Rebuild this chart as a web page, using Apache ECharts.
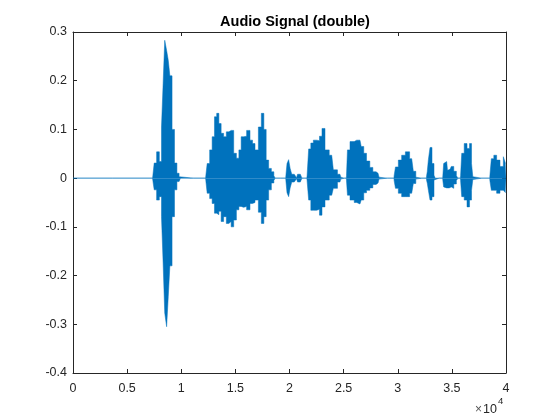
<!DOCTYPE html>
<html>
<head>
<meta charset="utf-8">
<script src="https://cdn.jsdelivr.net/npm/echarts@6/dist/echarts.min.js"></script>
<style>html,body{margin:0;padding:0;background:#fff}#c{width:560px;height:420px}</style>
</head>
<body>
<div id="c"></div>
<script>
// Envelope of the audio signal (sample index, max, min)
const sampleIndex = [
  0, 7350,
  7400, 7600, 7850, 8100, 8250, 8400, 8550, 8750, 8850, 9050, 9250, 9500, 9700, 9900,
  9950, 12250,
  12290, 12500, 12750, 12960, 13180, 13370, 13580, 13790, 14040, 14290, 14500, 14720, 14970, 15220, 15430, 15640, 15890, 16190, 16510, 16660, 16970, 17280, 17520, 17740, 17950, 18200, 18450, 18660,
  18700, 19650,
  19680, 19860, 19980, 20140, 20280, 20600, 20700, 20790, 21000, 21130,
  21170, 21600,
  21650, 21890, 22050, 22360, 22660, 22880, 23120, 23440, 23900, 24200, 24660, 24820,
  24850, 25250,
  25280, 25430, 25750, 26210, 26510, 26740, 26980, 27250, 27590, 27810, 28180, 28360,
  28400, 29650,
  29680, 29900, 30210, 30510, 30900, 31290, 31590, 31750,
  31800, 32650,
  32680, 32770, 32890, 33070, 33260, 33440,
  33480, 34150,
  34180, 34300, 34520, 34670, 34830, 35060, 35290, 35540,
  35590, 35790,
  35820, 36000, 36280, 36520, 36740, 36890, 36980,
  37020, 38500,
  38520, 38770, 38980, 39290, 39600, 39910, 40000
];
const upperEnvelope = [
  0, 0,
  0.005, 0.031, 0.054, 0.034, 0.105, 0.194, 0.283, 0.262, 0.242, 0.21, 0.1, 0.031, 0.01, 0.003,
  0, 0,
  0.005, 0.03, 0.058, 0.085, 0.126, 0.133, 0.112, 0.092, 0.085, 0.095, 0.098, 0.098, 0.051, 0.041, 0.058, 0.085, 0.086, 0.098, 0.078, 0.071, 0.058, 0.105, 0.133, 0.1, 0.037, 0.02, 0.013, 0.005,
  0, 0,
  0.005, 0.03, 0.038, 0.02, 0.008, 0.006, 0.001, 0.008, 0.008, 0.004,
  0, 0,
  0.005, 0.06, 0.072, 0.078, 0.077, 0.086, 0.102, 0.058, 0.047, 0.017, 0.008, 0.002,
  0, 0,
  0.005, 0.058, 0.075, 0.078, 0.078, 0.065, 0.051, 0.035, 0.022, 0.013, 0.01, 0.002,
  0, 0,
  0.005, 0.023, 0.037, 0.047, 0.054, 0.04, 0.014, 0.002,
  0, 0,
  0.005, 0.013, 0.038, 0.063, 0.03, 0.006,
  0, 0,
  0.005, 0.03, 0.034, 0.016, 0.018, 0.024, 0.014, 0.005,
  0, 0,
  0.005, 0.051, 0.071, 0.061, 0.071, 0.03, 0.003,
  0, 0,
  0.005, 0.04, 0.047, 0.037, 0.024, 0.044, 0.03
];
const lowerEnvelope = [
  0, 0,
  -0.005, -0.024, -0.045, -0.038, -0.079, -0.174, -0.277, -0.305, -0.243, -0.18, -0.079, -0.024, -0.007, -0.003,
  0, 0,
  -0.005, -0.031, -0.042, -0.052, -0.072, -0.075, -0.068, -0.089, -0.079, -0.093, -0.089, -0.1, -0.086, -0.065, -0.058, -0.06, -0.058, -0.065, -0.052, -0.05, -0.045, -0.07, -0.093, -0.079, -0.045, -0.024, -0.01, -0.005,
  0, 0,
  -0.005, -0.03, -0.038, -0.02, -0.008, -0.006, -0.001, -0.008, -0.008, -0.004,
  0, 0,
  -0.005, -0.045, -0.066, -0.066, -0.064, -0.076, -0.059, -0.045, -0.035, -0.021, -0.008, -0.002,
  0, 0,
  -0.005, -0.035, -0.045, -0.05, -0.053, -0.045, -0.03, -0.025, -0.02, -0.013, -0.01, -0.002,
  0, 0,
  -0.005, -0.021, -0.031, -0.038, -0.038, -0.031, -0.011, -0.002,
  0, 0,
  -0.005, -0.01, -0.025, -0.045, -0.038, -0.004,
  0, 0,
  -0.005, -0.018, -0.02, -0.02, -0.018, -0.021, -0.012, -0.005,
  0, 0,
  -0.005, -0.038, -0.045, -0.059, -0.045, -0.025, -0.003,
  0, 0,
  -0.005, -0.025, -0.025, -0.031, -0.025, -0.028, -0.03
];
const xTicks = [0, 5000, 10000, 15000, 20000, 25000, 30000, 35000, 40000];
const yTicks = [-0.4, -0.3, -0.2, -0.1, 0, 0.1, 0.2, 0.3];
const titleText = 'Audio Signal (double)';

const blue = '#0072BD';
const axisCol = '#262626';
const font = '"Liberation Sans", Arial, Helvetica, sans-serif';

const upperData = sampleIndex.map((s, i) => [s, upperEnvelope[i]]);
const lowerData = sampleIndex.map((s, i) => [s, lowerEnvelope[i]]);

const chart = echarts.init(document.getElementById('c'), null, {renderer: 'canvas'});
const xCommon = {
  type: 'value', min: xTicks[0], max: xTicks[xTicks.length - 1], interval: 5000,
  axisLine: {show: true, onZero: false, lineStyle: {color: axisCol, width: 1}},
  axisTick: {show: true, inside: true, length: 4, lineStyle: {color: axisCol}},
  splitLine: {show: false}
};
const yCommon = {
  type: 'value', min: yTicks[0], max: yTicks[yTicks.length - 1], interval: 0.1,
  axisLine: {show: true, onZero: false, lineStyle: {color: axisCol, width: 1}},
  axisTick: {show: true, inside: true, length: 4, lineStyle: {color: axisCol}},
  splitLine: {show: false}
};
chart.setOption({
  animation: false,
  backgroundColor: '#ffffff',
  title: {
    text: titleText, left: 290, top: 9, textAlign: 'center',
    textStyle: {fontFamily: font, fontSize: 14.5, fontWeight: 'bold', color: '#000'}
  },
  grid: {left: 73, right: 54, top: 32, bottom: 47, containLabel: false},
  xAxis: [
    Object.assign({}, xCommon, {
      position: 'bottom',
      axisLabel: {show: true, margin: 9, color: axisCol, fontFamily: font, fontSize: 12.5,
        formatter: v => String(Math.round(v / 1000) / 10)}
    }),
    Object.assign({}, xCommon, {position: 'top', axisLabel: {show: false}})
  ],
  yAxis: [
    Object.assign({}, yCommon, {
      position: 'left',
      axisLabel: {show: true, margin: 6, color: axisCol, fontFamily: font, fontSize: 12.5,
        formatter: v => String(Math.round(v * 10) / 10)}
    }),
    Object.assign({}, yCommon, {position: 'right', axisLabel: {show: false}})
  ],
  graphic: [{
    type: 'text', left: 475, top: 396,
    style: {
      text: '{a|×}{b|10}{c|4}',
      rich: {
        a: {fontFamily: font, fontSize: 12, fill: '#555', padding: [7, 1, 0, 0]},
        b: {fontFamily: font, fontSize: 12.5, fill: axisCol, padding: [7, 0, 0, 0]},
        c: {fontFamily: font, fontSize: 9.5, fill: axisCol, verticalAlign: 'top', padding: [0, 0, 5, 1]}
      }
    }
  }],
  series: [
    {
      type: 'line', data: upperData, showSymbol: false, symbol: 'none', step: 'middle',
      lineStyle: {color: blue, width: 0.5}, areaStyle: {color: blue, opacity: 1},
      clip: true, silent: true
    },
    {
      type: 'line', data: lowerData, showSymbol: false, symbol: 'none', step: 'middle',
      lineStyle: {color: blue, width: 0.5}, areaStyle: {color: blue, opacity: 1},
      clip: true, silent: true
    }
  ]
});
</script>
</body>
</html>
